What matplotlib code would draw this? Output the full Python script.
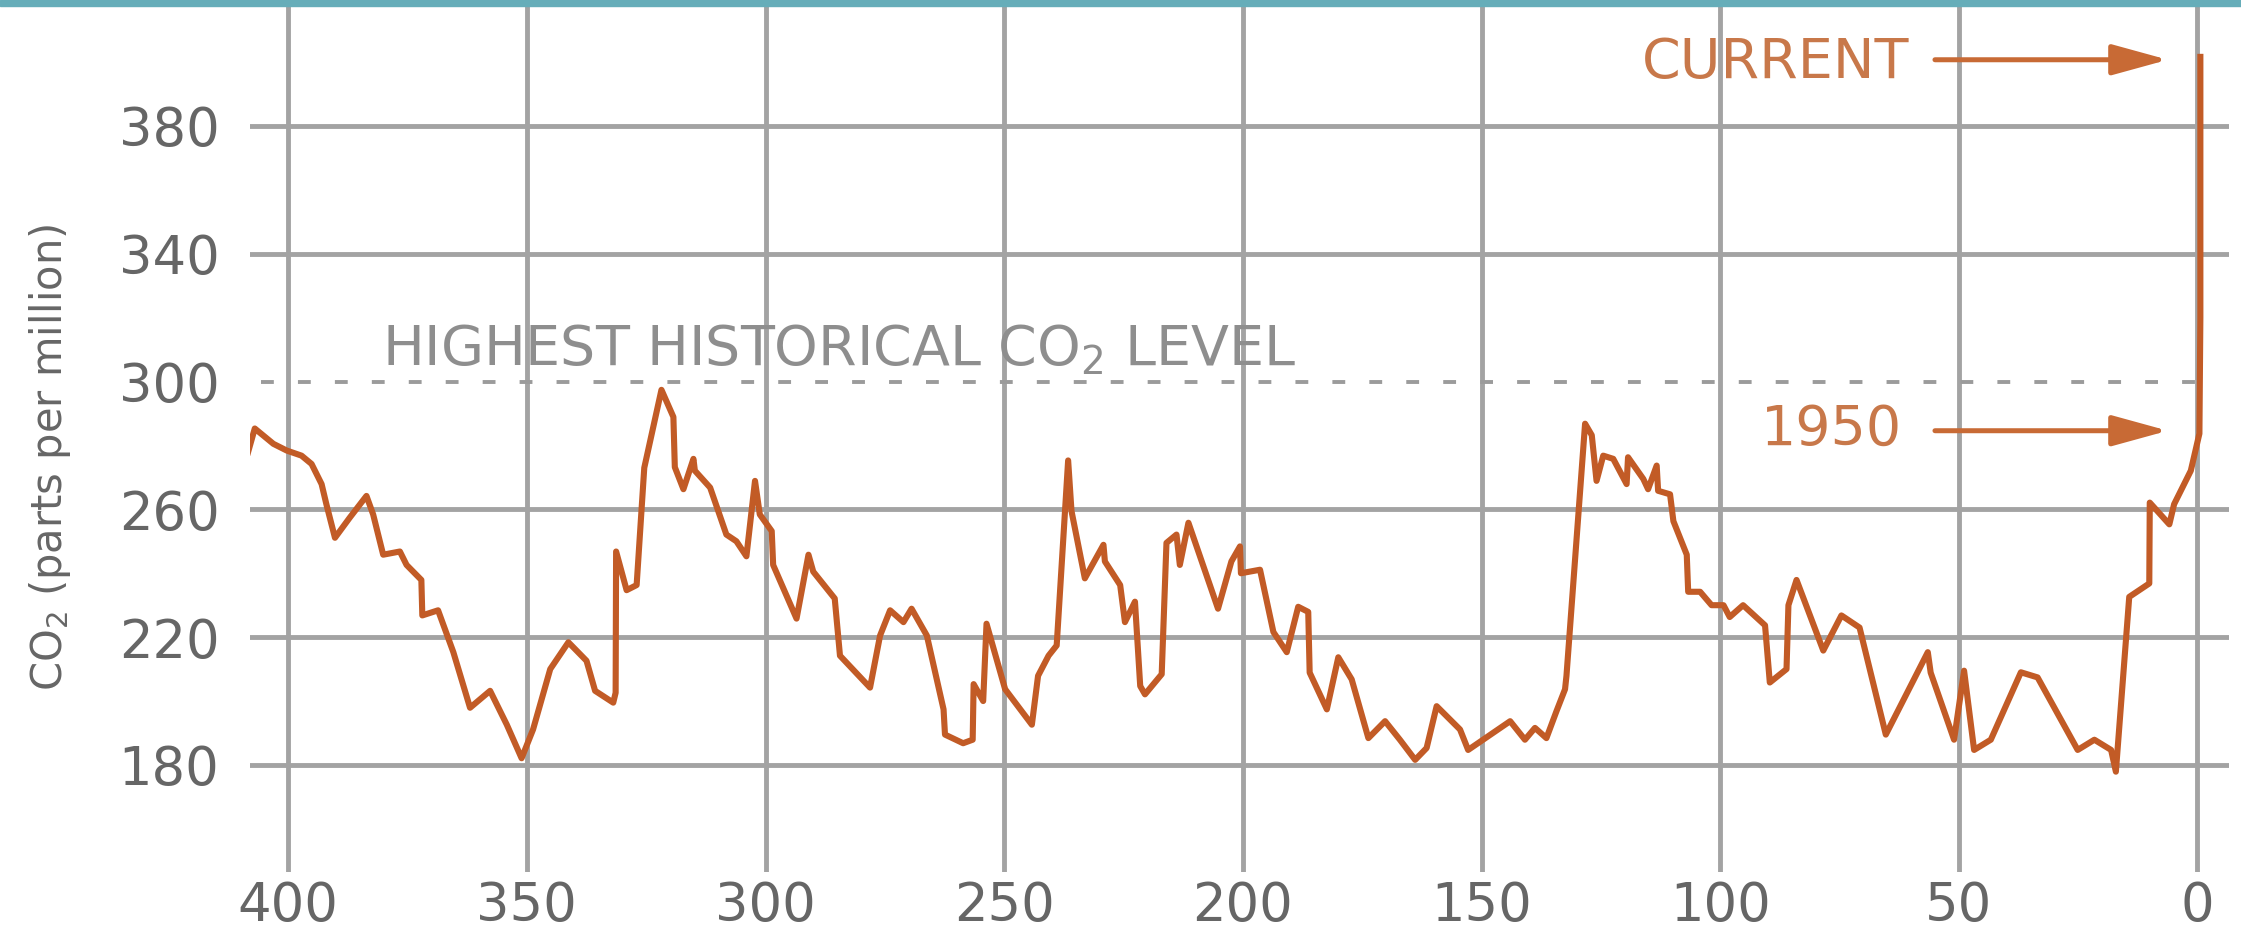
import matplotlib.pyplot as plt
from matplotlib.patches import Rectangle

# thousands of years ago / CO2 in ppm
kyr_ago = [408.4, 407.0, 403.1, 400.3, 397.2, 395.1, 393.0, 392.0, 390.2, 387.1,
           383.6, 382.2, 380.1, 376.6, 375.2, 372.1, 371.9, 368.6, 365.4, 361.9,
           357.7, 354.2, 351.1, 348.7, 345.1, 341.3, 337.5, 335.7, 331.9, 331.4,
           331.3, 329.1, 327.0, 325.4, 321.8, 319.3, 319.0, 317.2, 315.1, 314.8,
           311.6, 308.2, 306.1, 304.0, 302.2, 301.2, 298.7, 298.4, 293.5, 291.0,
           290.0, 285.5, 284.4, 278.1, 276.0, 273.9, 271.1, 269.4, 266.2, 262.7,
           262.4, 258.6, 256.6, 256.4, 254.4, 253.7, 249.8, 244.2, 242.9, 240.7,
           239.0, 236.6, 235.9, 233.1, 229.2, 228.9, 225.7, 224.7, 222.6, 221.5,
           220.5, 217.0, 216.0, 213.9, 213.2, 211.4, 205.2, 202.4, 200.6, 200.4,
           196.4, 193.6, 190.8, 188.4, 186.3, 186.0, 182.4, 180.0, 177.2, 173.7,
           170.2, 167.1, 163.9, 161.5, 159.4, 154.5, 152.8, 144.0, 140.9, 138.8,
           136.4, 134.3, 132.5, 132.2, 128.3, 126.9, 125.9, 124.5, 122.4, 119.6,
           119.3, 116.1, 115.1, 113.3, 113.0, 110.5, 109.8, 107.0, 106.7, 104.2,
           101.8, 99.3, 98.0, 95.2, 90.6, 89.6, 86.1, 85.7, 84.0, 78.4,
           74.6, 70.8, 65.3, 56.5, 55.9, 51.0, 48.9, 46.8, 43.3, 37.0,
           33.5, 25.1, 21.6, 18.1, 17.1, 14.3, 10.1, 10.0, 5.9, 4.9,
           1.4, -0.4, -0.6, -0.6]
co2 = [277.9, 285.3, 280.5, 278.4, 276.8, 274.2, 267.9, 261.6, 251.1, 257.4,
       264.2, 258.4, 245.8, 246.8, 242.6, 237.9, 226.8, 228.4, 215.3, 197.9,
       203.2, 192.6, 182.1, 191.1, 210.0, 218.4, 212.6, 203.2, 199.5, 202.6,
       246.8, 234.7, 236.3, 273.0, 297.4, 288.9, 273.2, 266.3, 275.8, 272.1,
       266.8, 252.1, 250.0, 245.3, 268.9, 258.4, 253.2, 242.6, 225.8, 245.8,
       240.5, 232.1, 214.2, 204.2, 220.5, 228.4, 224.7, 228.9, 220.5, 197.4,
       189.5, 186.8, 187.9, 205.3, 200.0, 224.2, 203.7, 192.6, 207.9, 214.2,
       217.4, 275.3, 259.5, 238.4, 248.9, 243.7, 236.3, 224.7, 231.1, 204.7,
       202.1, 208.4, 249.5, 252.1, 242.6, 255.8, 228.9, 243.7, 248.4, 240.0,
       241.1, 221.6, 215.3, 229.5, 227.9, 208.9, 197.4, 213.7, 206.8, 188.4,
       193.7, 187.9, 181.6, 185.3, 198.4, 191.1, 184.7, 193.7, 187.9, 191.6,
       188.4, 196.8, 203.7, 207.9, 286.8, 283.2, 268.9, 276.8, 275.8, 267.9,
       276.3, 269.5, 266.3, 273.7, 265.8, 264.7, 256.3, 245.8, 234.2, 234.2,
       230.0, 230.0, 226.3, 230.0, 223.7, 205.8, 210.0, 230.0, 237.9, 215.8,
       226.8, 223.0, 189.5, 215.3, 208.9, 187.9, 209.5, 184.7, 187.9, 209.0,
       207.4, 184.7, 187.9, 184.7, 177.9, 232.6, 236.8, 262.1, 255.3, 261.6,
       272.1, 283.7, 320.0, 401.6]

x_ticks = [400, 350, 300, 250, 200, 150, 100, 50, 0]
y_ticks = [180, 220, 260, 300, 340, 380]
highest_level = 300
current_y = 400.7
y_1950 = 284.6

W, H = 2241, 943
fig = plt.figure(figsize=(W / 100, H / 100), dpi=100)
ax = fig.add_axes([250 / W, 1 - 872 / H, 1979 / W, 872 / H])
ax.set_xlim(408.0, -6.6)
ax.set_ylim(146.5, 419.4)
for s in ax.spines.values():
    s.set_visible(False)

ax.set_xticks(x_ticks)
ax.set_yticks(y_ticks)
ax.tick_params(length=0, labelsize=38, labelcolor='#666666')
ax.tick_params(axis='y', pad=22)
ax.tick_params(axis='x', pad=6)
ax.grid(True, axis='x', color='#a3a3a3', lw=3.5)
ax.set_axisbelow(True)
# horizontal grid, the 300 line is the dashed one instead
for y in y_ticks:
    if y != highest_level:
        ax.axhline(y, color='#a3a3a3', lw=3.5, zorder=0.6)

ax.plot([405.6, -2.4], [highest_level, highest_level], color='#9b9b9b', lw=2.8, dashes=(3.3, 6.2))
ax.plot(kyr_ago, co2, color='#c25b26', lw=4.4, solid_joinstyle='round')

ax.text(380.4, 305.2, 'HIGHEST HISTORICAL CO$_2$ LEVEL', fontsize=40, color='#8e8e8e',
        ha='left', va='baseline')
ax.text(60.4, 395.0, 'CURRENT', fontsize=40, color='#c8784a', ha='right', va='baseline')
ax.text(61.9, 280.2, '1950', fontsize=40, color='#c8784a', ha='right', va='baseline')

for y in (current_y, y_1950):
    ax.annotate('', xy=(6.2, y), xytext=(55, y),
                arrowprops=dict(arrowstyle='-|>,head_length=0.4,head_width=0.11',
                                mutation_scale=86, color='#c86a35', lw=3.6,
                                shrinkA=0, shrinkB=0))

ax.set_ylabel('CO$_2$ (parts per million)', fontsize=30, color='#666666', va='center')
ax.yaxis.set_label_coords(-0.101, 0.476)

# teal strip along the top edge
fig.add_artist(Rectangle((0, 1 - 6 / H), 1, 6 / H, transform=fig.transFigure,
                         color='#66adb9', zorder=10))

fig.savefig('out.png', dpi=100)
